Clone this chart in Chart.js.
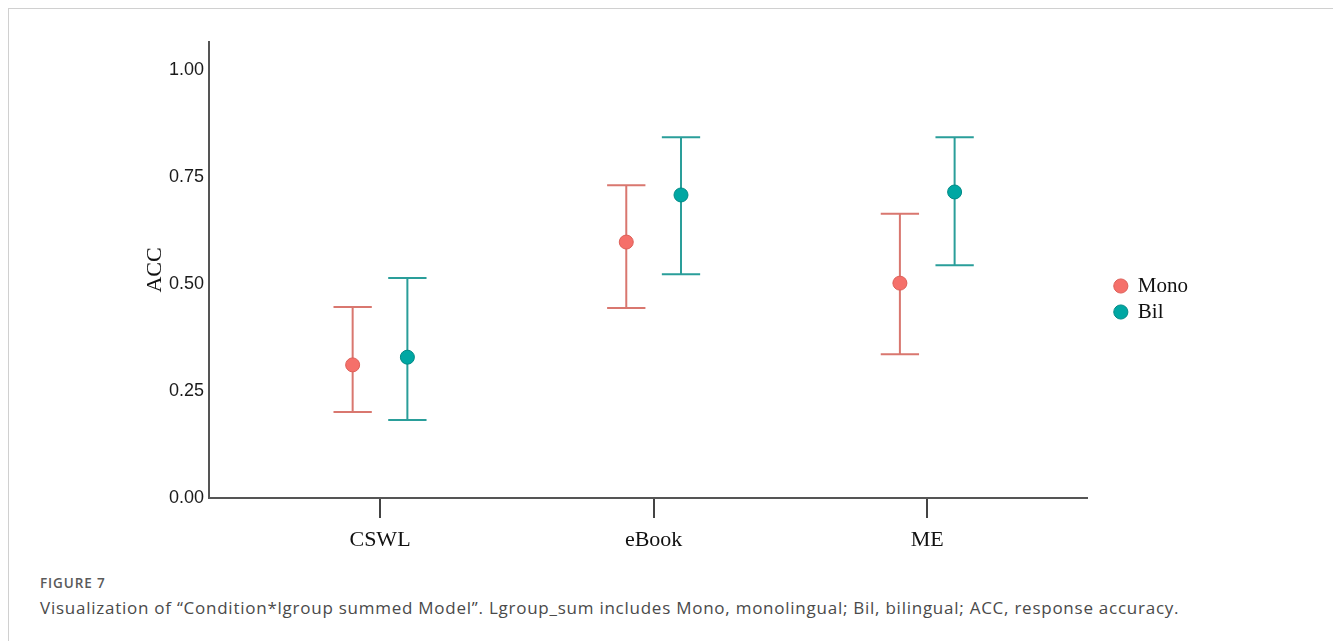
<!DOCTYPE html>
<html>
<head>
<meta charset="utf-8">
<script src="https://cdn.jsdelivr.net/npm/chart.js@4/dist/chart.umd.min.js"></script>
<style>
  body { margin: 0; background: #fff; width: 1333px; height: 641px; overflow: hidden; position: relative; }
  .frame { position: absolute; left: 8px; top: 8px; width: 1340px; height: 700px; border-left: 1px solid #d0d0d0; border-top: 1px solid #d0d0d0; }
  .plot { position: absolute; left: 0; top: 0; width: 1333px; height: 560px; }
  .figno { position: absolute; left: 40px; top: 574px; font: 600 13.5px "Open Sans", sans-serif; color: #5a5a5a; letter-spacing: 0.9px; }
  .caption { position: absolute; left: 40px; top: 596px; font: 17px "Open Sans", sans-serif; color: #4a4a4a; white-space: nowrap; letter-spacing: 0.75px; }
</style>
</head>
<body>
<div class="frame"></div>
<div class="plot"><canvas id="accChart"></canvas></div>
<div class="figno">FIGURE 7</div>
<div class="caption">Visualization of “Condition*lgroup summed Model”. Lgroup_sum includes Mono, monolingual; Bil, bilingual; ACC, response accuracy.</div>
<script>
// values
const categories = ['CSWL', 'eBook', 'ME'];
const monoMean  = [0.311, 0.598, 0.502];
const monoLower = [0.201, 0.444, 0.336];
const monoUpper = [0.446, 0.731, 0.664];
const bilMean   = [0.329, 0.708, 0.715];
const bilLower  = [0.182, 0.523, 0.544];
const bilUpper  = [0.514, 0.843, 0.843];
const yTicks = [0, 0.25, 0.5, 0.75, 1.0];

const dodge = 0.1;     // half distance between the two groups
const capHalf = 0.07;  // half width of the error bar caps (x units)

const toPoints = (means, shift) => means.map((m, i) => ({ x: i + 1 + shift, y: m }));

const errorBars = {
    id: 'errorBars',
    beforeDatasetsDraw(chart) {
        const { ctx, scales: { x, y } } = chart;
        chart.data.datasets.forEach(ds => {
            if (!ds.lower) return;
            ctx.save();
            ctx.strokeStyle = ds.barColor;
            ctx.lineWidth = 2;
            ds.data.forEach((p, i) => {
                const px = x.getPixelForValue(p.x);
                const x0 = x.getPixelForValue(p.x - capHalf);
                const x1 = x.getPixelForValue(p.x + capHalf);
                const yl = y.getPixelForValue(ds.lower[i]);
                const yu = y.getPixelForValue(ds.upper[i]);
                ctx.beginPath();
                ctx.moveTo(px, yl); ctx.lineTo(px, yu);
                ctx.moveTo(x0, yl); ctx.lineTo(x1, yl);
                ctx.moveTo(x0, yu); ctx.lineTo(x1, yu);
                ctx.stroke();
            });
            ctx.restore();
        });
    }
};

const ctx = document.getElementById('accChart').getContext('2d');
new Chart(ctx, {
    type: 'scatter',
    data: {
        datasets: [
            { label: 'Mono', data: toPoints(monoMean, -dodge), lower: monoLower, upper: monoUpper,
              barColor: '#d9776f', backgroundColor: '#f5706a', borderColor: '#dd5f58', borderWidth: 1, pointRadius: 7, pointHoverRadius: 7 },
            { label: 'Bil', data: toPoints(bilMean, dodge), lower: bilLower, upper: bilUpper,
              barColor: '#2a9e9a', backgroundColor: '#00a7a3', borderColor: '#008a86', borderWidth: 1, pointRadius: 7, pointHoverRadius: 7 }
        ]
    },
    options: {
        responsive: true, maintainAspectRatio: false, animation: false,
        layout: { padding: { top: 42, bottom: 4, left: 0, right: 135 } },
        plugins: {
            tooltip: { enabled: false },
            legend: {
                position: 'right',
                labels: {
                    usePointStyle: true, pointStyle: 'circle', boxWidth: 13, boxHeight: 10, padding: 5,
                    color: '#111', font: { family: '"Liberation Serif", serif', size: 21 }
                }
            }
        },
        scales: {
            x: {
                type: 'linear', min: 0.375, max: 3.585,
                afterBuildTicks: s => { s.ticks = categories.map((c, i) => ({ value: i + 1 })); },
                afterFit: s => { s.height = 58; },
                grid: { drawOnChartArea: false, tickLength: 20, color: '#444', lineWidth: 2 },
                border: { color: '#555', width: 2 },
                ticks: { padding: 9, color: '#111', font: { family: '"Liberation Serif", serif', size: 22 },
                         callback: (v, i) => categories[i] }
            },
            y: {
                min: 0, max: 1.0654,
                afterBuildTicks: s => { s.ticks = yTicks.map(v => ({ value: v })); },
                afterFit: s => { s.width = 209; },
                grid: { drawOnChartArea: false, drawTicks: false },
                border: { color: '#555', width: 2 },
                ticks: { padding: 5, color: '#1a1a1a', font: { family: '"Liberation Sans", Arial, sans-serif', size: 18 },
                         callback: v => Number(v).toFixed(2) },
                title: { display: true, text: 'ACC', color: '#111', padding: { top: 142, bottom: 0 },
                         font: { family: '"Liberation Serif", serif', size: 22 } }
            },
            spacer: {
                type: 'linear', position: 'right', display: true,
                afterFit: s => { s.width = 22; },
                grid: { display: false }, border: { display: false }, ticks: { display: false }
            }
        }
    },
    plugins: [errorBars]
});
</script>
</body>
</html>
